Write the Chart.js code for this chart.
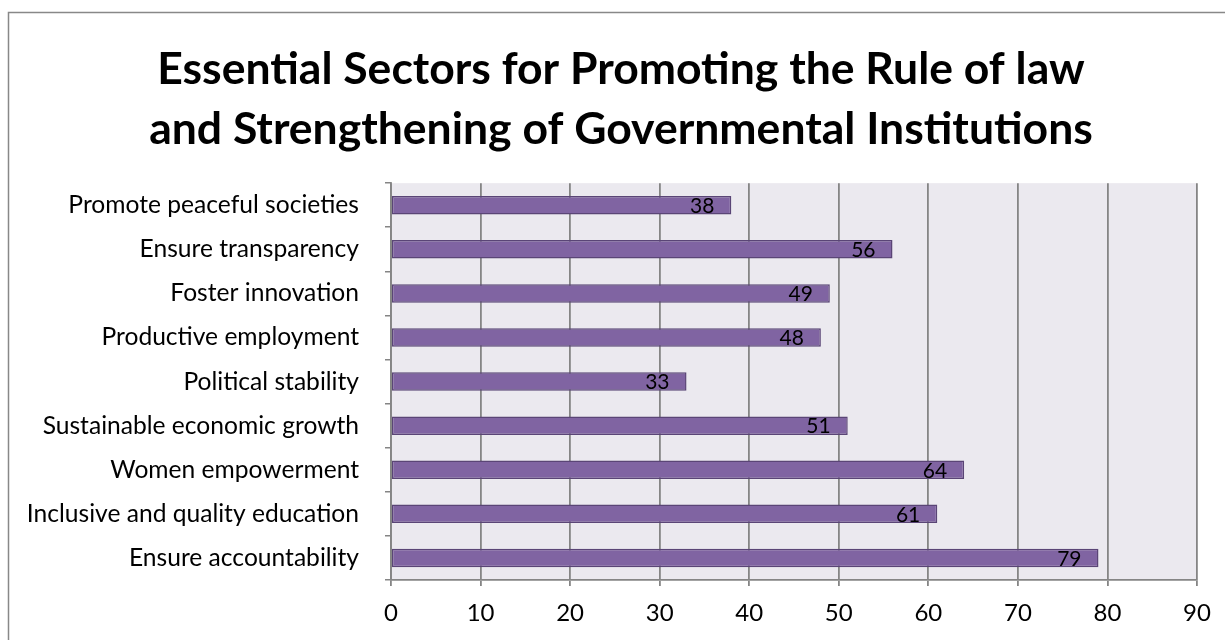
<!DOCTYPE html>
<html>
<head>
<meta charset="utf-8">
<title>Essential Sectors</title>
<script src="https://cdn.jsdelivr.net/npm/chart.js@4/dist/chart.umd.min.js"></script>
<style>
  html, body { margin: 0; padding: 0; background: #ffffff; overflow: hidden; }
  /* frame continues past the right edge, so the canvas does too */
  #wrap { position: absolute; left: 0; top: 0; width: 1242px; height: 640px; }
</style>
</head>
<body>
<div id="wrap"><canvas id="chart"></canvas></div>
<script>
const titleLines = [
  'Essential Sectors for Promoting the Rule of law',
  'and Strengthening of Governmental Institutions'
];
const sectors = [
  'Promote peaceful societies',
  'Ensure transparency',
  'Foster innovation',
  'Productive employment',
  'Political stability',
  'Sustainable economic growth',
  'Women empowerment',
  'Inclusive and quality education',
  'Ensure accountability'
];
const scores = [38, 56, 49, 48, 33, 51, 64, 61, 79];
const xTicks = [0, 10, 20, 30, 40, 50, 60, 70, 80, 90];

const FONT = 'Lato, Calibri, Carlito, sans-serif';
const GRID = '#858585';

// outer frame + shaded plot background
const frame = {
  id: 'frame',
  beforeDraw(chart) {
    const { ctx, chartArea: a } = chart;
    ctx.save();
    ctx.fillStyle = '#ebe9ef';
    ctx.fillRect(a.left, a.top, a.right - a.left, a.bottom - a.top);
    ctx.strokeStyle = '#888888';
    ctx.lineWidth = 1.5;
    ctx.strokeRect(8.5, 12.5, 1260, 700);
    ctx.restore();
  }
};

// value labels at the inner end of each bar
const barValues = {
  id: 'barValues',
  afterDatasetsDraw(chart) {
    const { ctx } = chart;
    const meta = chart.getDatasetMeta(0);
    ctx.save();
    ctx.font = '21px ' + FONT;
    ctx.fillStyle = '#000000';
    ctx.textAlign = 'right';
    ctx.textBaseline = 'middle';
    meta.data.forEach((bar, i) => {
      ctx.fillText(String(scores[i]), bar.x - 17, bar.y + 1);
    });
    ctx.restore();
  }
};

new Chart(document.getElementById('chart'), {
  type: 'bar',
  data: {
    labels: sectors,
    datasets: [{
      data: scores,
      backgroundColor: '#8064a2',
      borderColor: '#5a4576',
      borderWidth: 1.5,
      borderSkipped: false,
      categoryPercentage: 1,
      barPercentage: 0.42
    }]
  },
  options: {
    indexAxis: 'y',
    responsive: true,
    maintainAspectRatio: false,
    animation: false,
    layout: { padding: 0 },
    scales: {
      x: {
        min: 0,
        max: 90,
        afterBuildTicks: s => { s.ticks = xTicks.map(v => ({ value: v })); },
        afterFit: s => { s.height = 60; },
        grid: { color: GRID, lineWidth: 1.8, drawTicks: true, tickLength: 6, tickColor: GRID },
        border: { color: GRID, width: 1.8 },
        ticks: { color: '#000000', font: { family: FONT, size: 24 }, padding: 13 }
      },
      y: {
        offset: true,
        afterFit: s => { s.width = 391; },
        grid: { offset: true, drawOnChartArea: false, drawTicks: true, tickLength: 6, tickColor: GRID, lineWidth: 1.5 },
        border: { color: GRID, width: 1.8 },
        ticks: { color: '#000000', font: { family: FONT, size: 24.6 }, padding: 26, autoSkip: false }
      },
      // empty strip on the right, keeps the plot off the frame edge
      gutter: {
        type: 'linear',
        position: 'right',
        afterFit: s => { s.width = 45; },
        grid: { display: false },
        border: { display: false },
        ticks: { display: false }
      }
    },
    plugins: {
      legend: { display: false },
      tooltip: { enabled: false },
      title: {
        display: true,
        text: titleLines,
        color: '#000000',
        font: { family: FONT, size: 44.5, weight: 'bold', lineHeight: 1.35 },
        padding: { top: 40, bottom: 23 }
      }
    }
  },
  plugins: [frame, barValues]
});
</script>
</body>
</html>
